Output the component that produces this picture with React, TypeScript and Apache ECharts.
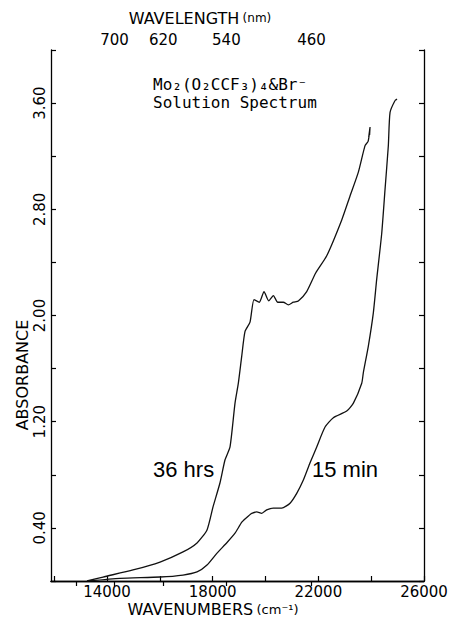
import React, { useEffect, useRef } from "react";
import * as echarts from "echarts";

// 36 hrs spectrum (wavenumber cm-1, absorbance)
const wn36 = [13243, 13849, 14985, 16007, 16878, 17408, 17786, 18013, 18278, 18468, 18657, 18846, 18972, 19098, 19225, 19414, 19565, 19767, 19944, 20120, 20297, 20462, 20675, 20864, 21054, 21243, 21560, 21900, 22318, 22886, 23200, 23515, 23768, 23880, 23930, 23905, 23957, 23940];
const abs36 = [0.0, 0.03, 0.083, 0.143, 0.219, 0.287, 0.385, 0.558, 0.74, 0.913, 1.01, 1.34, 1.49, 1.69, 1.88, 1.95, 2.12, 2.1, 2.18, 2.11, 2.15, 2.1, 2.1, 2.08, 2.1, 2.11, 2.18, 2.32, 2.45, 2.72, 2.9, 3.08, 3.28, 3.31, 3.37, 3.34, 3.42, 3.36];

// 15 min spectrum
const wn15 = [13300, 14492, 16007, 16878, 17408, 17786, 18165, 18544, 18846, 19111, 19414, 19478, 19668, 19857, 20046, 20297, 20613, 20929, 21182, 21433, 21686, 21939, 22254, 22569, 23075, 23327, 23643, 23704, 23893, 24082, 24208, 24400, 24525, 24650, 24715, 24904, 24980];
const abs15 = [0.0, 0.02, 0.03, 0.045, 0.068, 0.12, 0.21, 0.29, 0.36, 0.445, 0.5, 0.51, 0.52, 0.51, 0.536, 0.549, 0.549, 0.586, 0.66, 0.76, 0.89, 1.01, 1.16, 1.23, 1.28, 1.34, 1.49, 1.57, 1.77, 2.02, 2.27, 2.62, 2.95, 3.28, 3.53, 3.62, 3.63];

// axis ticks / labels
const wnTicks = [12000, 14000, 16000, 18000, 20000, 22000, 24000, 26000];
const wnLabels = [14000, 18000, 22000, 26000];
const nmTicks = [780, 700, 620, 540, 460];
const nmLabels = [700, 620, 540, 460];
const absLabels = [0.4, 1.2, 2.0, 2.8, 3.6];

const FONT = "DejaVu Sans";
const MONO = "DejaVu Sans Mono";

export default function App() {
  const ref = useRef<HTMLDivElement>(null);
  useEffect(() => {
    if (!ref.current) return;
    const chart = echarts.init(ref.current, undefined, { renderer: "svg" });
    const axisLine = { show: true, lineStyle: { color: "#000", width: 1.3 } };
    const tickStyle = { color: "#000", width: 1.2 };
    const option: any = {
      animation: false,
      backgroundColor: "#fff",
      grid: { left: 51, right: 31, top: 50, bottom: 38 },
      xAxis: [
        {
          type: "value",
          position: "bottom",
          min: 11880,
          max: 26000,
          axisLine,
          axisTick: { show: true, inside: true, length: 5, customValues: wnTicks, lineStyle: tickStyle },
          axisLabel: {
            customValues: wnLabels,
            formatter: (v: number) => String(Math.round(v)),
            fontFamily: FONT,
            fontSize: 15,
            color: "#000",
            margin: 3,
          },
          splitLine: { show: false },
        },
        {
          type: "value",
          position: "top",
          min: 11880,
          max: 26000,
          axisLine,
          axisTick: { show: true, inside: true, length: 5, customValues: nmTicks.map((l) => 1e7 / l), lineStyle: tickStyle },
          axisLabel: {
            customValues: nmLabels.map((l) => 1e7 / l),
            formatter: (v: number) => String(Math.round(1e7 / v)),
            fontFamily: FONT,
            fontSize: 15,
            color: "#000",
            margin: 3,
          },
          splitLine: { show: false },
        },
      ],
      yAxis: [
        {
          type: "value",
          position: "left",
          min: 0,
          max: 4,
          interval: 0.4,
          axisLine,
          axisTick: { show: true, inside: true, length: 5, lineStyle: tickStyle },
          axisLabel: {
            customValues: absLabels,
            formatter: (v: number) => v.toFixed(2),
            rotate: 90,
            fontFamily: FONT,
            fontSize: 15,
            color: "#000",
            margin: 4,
          },
          splitLine: { show: false },
        },
        {
          type: "value",
          position: "right",
          min: 0,
          max: 4,
          interval: 0.4,
          axisLine,
          axisTick: { show: true, inside: true, length: 5, lineStyle: tickStyle },
          axisLabel: { show: false },
          splitLine: { show: false },
        },
      ],
      series: [
        {
          name: "36 hrs",
          type: "line",
          data: wn36.map((w, i) => [w, abs36[i]]),
          showSymbol: false,
          smooth: 0.2,
          lineStyle: { color: "#111", width: 1.3 },
          xAxisIndex: 0,
          yAxisIndex: 0,
        },
        {
          name: "15 min",
          type: "line",
          data: wn15.map((w, i) => [w, abs15[i]]),
          showSymbol: false,
          smooth: 0.2,
          lineStyle: { color: "#111", width: 1.3 },
          xAxisIndex: 0,
          yAxisIndex: 0,
        },
      ],
      graphic: [
        {
          type: "text",
          x: 200,
          y: 18,
          style: {
            text: "{a|WAVELENGTH} {b|(nm)}",
            align: "center",
            verticalAlign: "middle",
            rich: {
              a: { fontFamily: FONT, fontSize: 16, fill: "#000" },
              b: { fontFamily: FONT, fontSize: 12, fill: "#000" },
            },
          },
        },
        {
          type: "text",
          x: 213,
          y: 609,
          style: {
            text: "{a|WAVENUMBERS} {b|(cm⁻¹)}",
            align: "center",
            verticalAlign: "middle",
            rich: {
              a: { fontFamily: FONT, fontSize: 16, fill: "#000" },
              b: { fontFamily: FONT, fontSize: 13, fill: "#000" },
            },
          },
        },
        {
          type: "text",
          x: 22,
          y: 375,
          rotation: Math.PI / 2,
          style: {
            text: "ABSORBANCE",
            fontFamily: FONT,
            fontSize: 16,
            fill: "#000",
            align: "center",
            verticalAlign: "middle",
          },
        },
        {
          type: "text",
          x: 153,
          y: 84,
          style: {
            text: "Mo₂(O₂CCF₃)₄&Br⁻",
            fontFamily: MONO,
            fontSize: 16,
            fill: "#000",
            align: "left",
            verticalAlign: "middle",
          },
        },
        {
          type: "text",
          x: 153,
          y: 102,
          style: {
            text: "Solution Spectrum",
            fontFamily: MONO,
            fontSize: 16,
            fill: "#000",
            align: "left",
            verticalAlign: "middle",
          },
        },
        {
          type: "text",
          x: 153,
          y: 469,
          style: {
            text: "36 hrs",
            fontFamily: "Liberation Sans",
            fontSize: 22,
            fill: "#000",
            align: "left",
            verticalAlign: "middle",
          },
        },
        {
          type: "text",
          x: 312,
          y: 469,
          style: {
            text: "15 min",
            fontFamily: "Liberation Sans",
            fontSize: 22,
            fill: "#000",
            align: "left",
            verticalAlign: "middle",
          },
        },
      ],
    };
    chart.setOption(option);
    return () => chart.dispose();
  }, []);
  return <div ref={ref} style={{ width: 455, height: 619, position: "absolute", left: 0, top: 0 }} />;
}
